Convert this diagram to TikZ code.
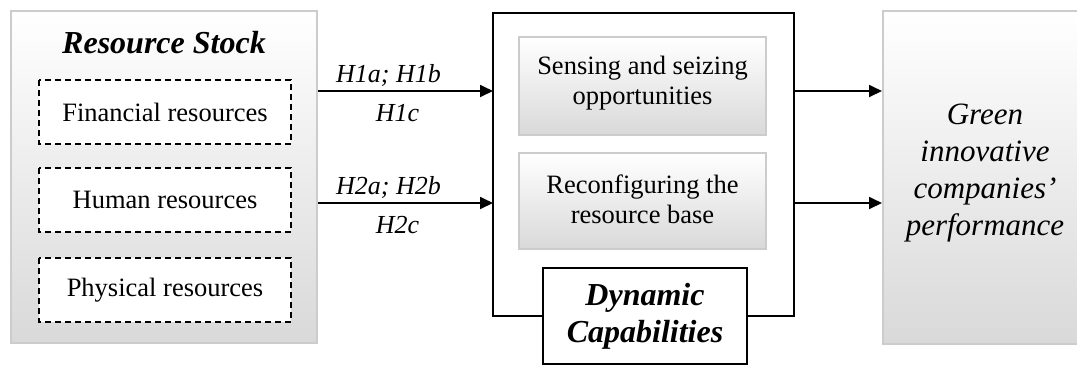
\documentclass[tikz,border=0pt]{standalone}
\usepackage{fontspec}
\setmainfont{Liberation Serif}
\usetikzlibrary{arrows.meta}
\begin{document}
\begin{tikzpicture}[x=1pt,y=-1pt,
  graybox/.style={draw=black!20,line width=1.6pt,top color=white,bottom color=black!15},
  dashbox/.style={draw=black,line width=1.4pt,dash pattern=on 6pt off 4pt,fill=white},
  blackbox/.style={draw=black,line width=1.4pt},
  arr/.style={line width=1.8pt,-{Triangle[length=13pt,width=12pt]}},
  txt/.style={font=\fontsize{26.5}{30}\selectfont,align=center},
  hyp/.style={font=\fontsize{26}{30}\selectfont\itshape,anchor=base},
  ttl/.style={font=\fontsize{32}{37}\selectfont\bfseries\itshape,align=center}]
\useasboundingbox (0,0) rectangle (1077,365);

% resource stock
\path[graybox] (11,11) rectangle (317,343);
\node[ttl] (rs) at (164,43) {Resource Stock};
\path[dashbox] (39,80) rectangle (291,144);
\node[txt] (fin) at (165,112) {Financial resources};
\path[dashbox] (39,168) rectangle (291,232);
\node[txt] (hum) at (165,200) {Human resources};
\path[dashbox] (39,258) rectangle (291,322);
\node[txt] (phy) at (165,290) {Physical resources};
\coordinate (s1) at (318,91);
\coordinate (s2) at (318,203);

% dynamic capabilities frame
\path[blackbox] (493,13) rectangle (794,316);
\coordinate (d1) at (493,91);
\coordinate (d2) at (493,203);
\coordinate (o1) at (794,91);
\coordinate (o2) at (794,203);
\path[graybox] (519,37) rectangle (766,135);
\node[txt] (sen) at (642.5,83) {Sensing and seizing\\opportunities};
\path[graybox] (519,153) rectangle (766,249);
\node[txt] (rec) at (642.5,199) {Reconfiguring the\\resource base};
\node[blackbox,fill=white,minimum width=204pt,minimum height=96pt,ttl] (dc) at (645,316) {Dynamic\\Capabilities};

% performance
\path[graybox] (883,11) rectangle (1090,344);
\coordinate (p1) at (882,91);
\coordinate (p2) at (882,203);
\node[font=\fontsize{31}{37}\selectfont\itshape,align=center] (gp) at (985,173) {Green\\innovative\\companies’\\performance};

% connectors
\draw[arr] (s1) -- node[hyp,yshift=9pt,xshift=-17pt] {H1a; H1b} node[hyp,yshift=-30pt,xshift=-8pt] {H1c} (d1);
\draw[arr] (s2) -- node[hyp,yshift=9pt,xshift=-17pt] {H2a; H2b} node[hyp,yshift=-30pt,xshift=-8pt] {H2c} (d2);
\draw[arr] (o1) -- (p1);
\draw[arr] (o2) -- (p2);
\end{tikzpicture}
\end{document}
